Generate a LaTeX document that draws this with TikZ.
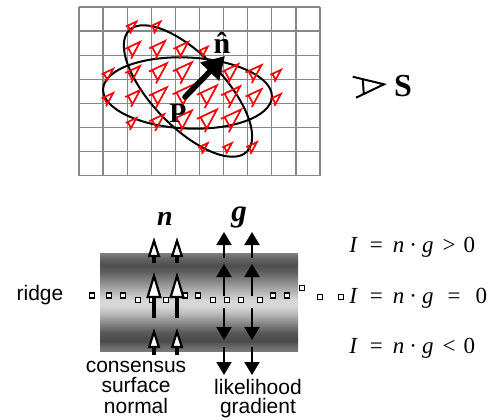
\documentclass[tikz,border=0pt]{standalone}
\usepackage{fontspec}
\setmainfont{Liberation Serif}
\newfontfamily\labelsans{Liberation Sans}
\usetikzlibrary{arrows.meta}
\definecolor{gridgray}{gray}{0.53}
\definecolor{bndA}{gray}{0.50}
\definecolor{bndB}{gray}{0.40}
\definecolor{bndC}{gray}{0.31}
\definecolor{bndD}{gray}{0.36}
\definecolor{bndE}{gray}{0.53}
\definecolor{bndF}{gray}{0.70}
\definecolor{bndG}{gray}{0.84}
\definecolor{bndH}{gray}{0.85}
\definecolor{bndI}{gray}{0.74}
\definecolor{bndJ}{gray}{0.53}
\definecolor{bndK}{gray}{0.34}
\definecolor{bndL}{gray}{0.29}
\definecolor{bndM}{gray}{0.40}
\definecolor{bndN}{gray}{0.48}
\pgfdeclareverticalshading{ridgeband}{100bp}{color(0bp)=(bndN); color(25bp)=(bndN); color(27.55bp)=(bndM); color(30.1bp)=(bndL); color(34.18bp)=(bndK); color(39.29bp)=(bndJ); color(44.39bp)=(bndI); color(48.47bp)=(bndH); color(51.02bp)=(bndG); color(55.61bp)=(bndF); color(60.71bp)=(bndE); color(65.82bp)=(bndD); color(68.88bp)=(bndC); color(72.45bp)=(bndB); color(75bp)=(bndA); color(100bp)=(bndA)}
\begin{document}
\begin{tikzpicture}[x=0.5pt,y=-0.5pt,
  gridline/.style={draw=gridgray, line width=0.65pt},
  ellipseline/.style={draw=black, line width=1pt},
  glyphline/.style={draw=red, line width=0.85pt, line join=miter},
  redglyph/.pic={\draw[glyphline] (-1.1,-0.40) -- (0,0) -- (-1.3,0.39) (-0.9,-0.33) -- (-1.09,0.33);},
  bigarrow/.style={draw=black, line width=2.8pt, line cap=round, -{Triangle[length=11pt,width=12.5pt]}},
  legendline/.style={draw=black, line width=1pt, line join=miter},
  toplabel/.style={inner sep=0pt, font=\bfseries\fontsize{14}{16}\selectfont},
  sanslabel/.style={inner sep=0pt, align=center, font=\labelsans\fontsize{10.5}{10.25}\selectfont},
  eqlabel/.style={inner sep=0pt, anchor=base west, font=\fontsize{11.5}{13}\selectfont},
  vecname/.style={inner sep=0pt, anchor=base, font=\bfseries\itshape\fontsize{14}{16}\selectfont},
  ridgedot/.style={rectangle, draw=black, fill=white, line width=0.6pt, minimum size=2.5pt, inner sep=0pt},
  nbig/.style={draw=black, line width=1.6pt, -{Triangle[fill=white, length=13pt, width=7.5pt, line width=1.1pt]}},
  nsmall/.style={draw=black, line width=1.6pt, -{Triangle[fill=white, length=10pt, width=6pt, line width=1.1pt]}},
  garrow/.style={draw=black, line width=1pt, -{Triangle[length=6.5pt, width=7.5pt]}}
]
\fill[white] (0,0) rectangle (492,419);
\useasboundingbox (0,0) rectangle (492,419);
% grid
\foreach \i in {0,...,10} \draw[gridline] ({79+24.1*\i},7) -- ({79+24.1*\i},175.7);
\foreach \j in {0,...,7} \draw[gridline] (79,{7+24.1*\j}) -- (320,{7+24.1*\j});
% ellipses
\draw[ellipseline, shift={(187.5,93)}, rotate=-2.7] (0,0) ellipse [x radius=84.5, y radius=35.5];
\draw[ellipseline, shift={(188,91)}, rotate=-46] (0,0) ellipse [x radius=84.5, y radius=36];
% red surface glyphs
\foreach \i/\j/\s in {2/1/10,3/1/10,
  2/2/14,3/2/15,4/2/14,5/2/9,
  1/3/11,2/3/14,3/3/17,4/3/18,6/3/16,7/3/15,8/3/10,
  1/4/11,2/4/14,3/4/17,4/4/20,5/4/19,6/4/18,7/4/15,8/4/10,
  2/5/10,3/5/14,4/5/18,5/5/19,6/5/19,
  5/6/9,6/6/9,7/6/10}
  \pic[rotate=45, scale=\s] at ({79+24.1*\i+0.92*\s},{7+24.1*\j-0.95*\s}) {redglyph};
% consensus normal at P
\coordinate (ptail) at (185,97);
\coordinate (nhtip) at (225,56);
\draw[bigarrow] (ptail) -- (nhtip);
\node[toplabel, anchor=base] (P) at (178,122) {P};
\node[toplabel, anchor=base, font=\bfseries\fontsize{15}{17}\selectfont] (nhat) at (222,53) {\^{n}};
% legend glyph
\coordinate (lgA) at (384,84.3);
\coordinate (lgU) at (352.7,76.7);
\coordinate (lgL) at (356,97.7);
\coordinate (lgC1) at (362.7,79.1);
\coordinate (lgC2) at (363.8,93.9);
\draw[legendline] (lgU) -- (lgA) -- (lgL) (lgC1) -- (lgC2);
\node[toplabel, anchor=base, font=\bfseries\fontsize{16}{18}\selectfont] (S) at (403,96) {S};
% ridge band
\shade[shading=ridgeband] (100,253) rectangle (298,351);
\foreach \x/\y [count=\k] in {92/295.5,109/295.5,123/295.5,138/300,152/300,166/300,185/295.5,198/295.5,213/300,227/300,241/300,260/300,273/295.5,287/295.5,302/288,320/297,341/297}
  \node[ridgedot] (rd\k) at (\x,\y) {};
% n arrows (consensus surface normal)
\foreach \x [count=\k] in {154,177} {
  \coordinate (nAs\k) at (\x,263); \coordinate (nAe\k) at (\x,237);
  \coordinate (nBs\k) at (\x,318); \coordinate (nBe\k) at (\x,272);
  \coordinate (nCs\k) at (\x,355); \coordinate (nCe\k) at (\x,328);
  \draw[nsmall] (nAs\k) -- (nAe\k);
  \draw[nbig] (nBs\k) -- (nBe\k);
  \draw[nsmall] (nCs\k) -- (nCe\k);
}
% g arrows (likelihood gradient)
\foreach \x [count=\k] in {224,252} {
  \coordinate (gAs\k) at (\x,258); \coordinate (gAe\k) at (\x,232);
  \coordinate (gBs\k) at (\x,296); \coordinate (gBe\k) at (\x,264);
  \coordinate (gCs\k) at (\x,308); \coordinate (gCe\k) at (\x,340);
  \coordinate (gDs\k) at (\x,347); \coordinate (gDe\k) at (\x,375);
  \draw[garrow] (gAs\k) -- (gAe\k);
  \draw[garrow] (gBs\k) -- (gBe\k);
  \draw[garrow] (gCs\k) -- (gCe\k);
  \draw[garrow] (gDs\k) -- (gDe\k);
}
% labels
\node[vecname] (nlab) at (165,225) {n};
\node[vecname, font=\bfseries\itshape\fontsize{15.5}{17}\selectfont] (glab) at (239,221) {g};
\node[sanslabel, anchor=base] (ridge) at (40,300) {ridge};
\node[sanslabel, anchor=base] (csn) at (136,413) {consensus\\surface\\normal};
\node[sanslabel, anchor=base, font=\labelsans\fontsize{10.5}{9.5}\selectfont] (lhg) at (258,413) {likelihood\\gradient};
\node[eqlabel] (eqA) at (349,252) {\textit{I}\hspace{6pt}=\hspace{5pt}\textit{n}\hspace{2.5pt}·\hspace{2.5pt}\textit{g}\hspace{4.5pt}>\hspace{4pt}0};
\node[eqlabel] (eqB) at (349,303) {\textit{I}\hspace{6pt}=\hspace{5pt}\textit{n}\hspace{2.5pt}·\hspace{2.5pt}\textit{g}\hspace{7pt}=\hspace{7.5pt}0};
\node[eqlabel] (eqC) at (349,353) {\textit{I}\hspace{6pt}=\hspace{5pt}\textit{n}\hspace{2.5pt}·\hspace{2.5pt}\textit{g}\hspace{4.5pt}<\hspace{4pt}0};
\end{tikzpicture}
\end{document}
